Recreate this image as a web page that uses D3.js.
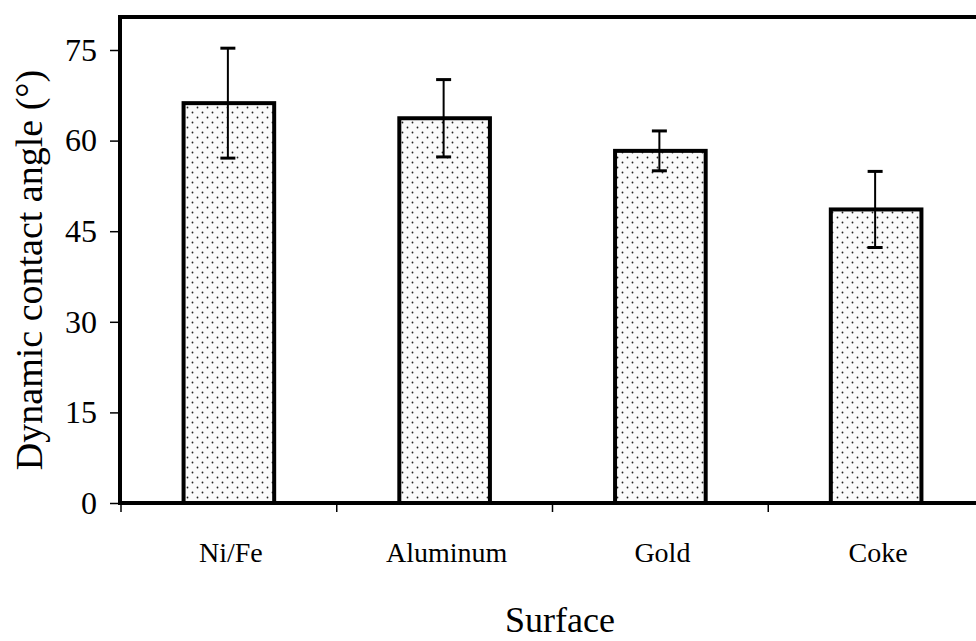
<!DOCTYPE html>
<html>
<head>
<meta charset="utf-8">
<script src="https://cdn.jsdelivr.net/npm/d3@7"></script>
<style>
  body { margin: 0; background: #fff; }
  text { font-family: "Liberation Serif", "Times New Roman", serif; fill: #000; }
</style>
</head>
<body>
<section></section>
<script>
// Datos
var categorias = ["Ni/Fe", "Aluminum", "Gold", "Coke"]
var angulos = [66.2, 63.7, 58.3, 48.6]
var errores = [9.1, 6.4, 3.3, 6.3]
var ticksY = [0, 15, 30, 45, 60, 75]

var width = 976
var height = 641

var lienzosvg = d3.select("section")
    .append("svg")
    .attr("width", width)
    .attr("height", height)

// patron de puntos para el relleno de las barras
var patron = lienzosvg.append("defs")
    .append("pattern")
    .attr("id", "puntos")
    .attr("patternUnits", "userSpaceOnUse")
    .attr("width", 10)
    .attr("height", 10)
patron.append("rect").attr("width", 10).attr("height", 10).attr("fill", "#fafafa")
patron.append("circle").attr("cx", 2.5).attr("cy", 2.5).attr("r", 0.9).attr("fill", "#222")
patron.append("circle").attr("cx", 7.5).attr("cy", 7.5).attr("r", 0.9).attr("fill", "#222")

// escalas
var escalaY = d3.scaleLinear()
    .domain([0, 75])
    .range([503, 50])

var escalaX = d3.scaleBand()
    .domain(categorias)
    .range([121, 984])
    .padding(0)

var anchoBarra = escalaX.bandwidth() * 0.42
var topeY = 17

// barras
lienzosvg.selectAll(".barra")
    .data(categorias)
    .enter()
    .append("rect")
    .attr("class", "barra")
    .attr("x", function (d) { return escalaX(d) + escalaX.bandwidth() / 2 - anchoBarra / 2 })
    .attr("y", function (d, i) { return escalaY(angulos[i]) })
    .attr("width", anchoBarra)
    .attr("height", function (d, i) { return escalaY(0) - escalaY(angulos[i]) })
    .attr("fill", "url(#puntos)")
    .attr("stroke", "#000")
    .attr("stroke-width", 4)

// barras de error
var err = lienzosvg.selectAll(".error")
    .data(categorias)
    .enter()
    .append("g")
    .attr("class", "error")
    .attr("transform", function (d) { return "translate(" + (escalaX(d) + escalaX.bandwidth() / 2 - 1) + ",0)" })

err.append("line")
    .attr("y1", function (d, i) { return escalaY(angulos[i] + errores[i]) })
    .attr("y2", function (d, i) { return escalaY(angulos[i] - errores[i]) })
    .attr("stroke", "#000")
    .attr("stroke-width", 2)

err.selectAll(".tapa")
    .data(function (d, i) { return [angulos[i] + errores[i], angulos[i] - errores[i]] })
    .enter()
    .append("line")
    .attr("x1", -7.5)
    .attr("x2", 7.5)
    .attr("y1", function (v) { return escalaY(v) })
    .attr("y2", function (v) { return escalaY(v) })
    .attr("stroke", "#000")
    .attr("stroke-width", 3)

// marco: eje izquierdo, borde superior y eje inferior
lienzosvg.append("path")
    .attr("d", "M" + width + "," + topeY + "H120V" + escalaY(0) + "H" + width)
    .attr("fill", "none")
    .attr("stroke", "#000")
    .attr("stroke-width", 4)

// eje Y
var ejeY = d3.axisLeft(escalaY)
    .tickValues(ticksY)
    .tickSize(9)
    .tickPadding(13)

var gY = lienzosvg.append("g")
    .attr("transform", "translate(119,0)")
    .call(ejeY)
gY.select(".domain").remove()
gY.selectAll(".tick line").attr("stroke", "#000").attr("stroke-width", 1.5)
gY.selectAll(".tick text")
    .attr("font-size", 32)
    .attr("font-family", "Liberation Serif")
    .attr("fill", "#000")

// eje X: marcas entre categorias
var limites = categorias.map(function (d) { return escalaX(d) })
lienzosvg.selectAll(".marcaX")
    .data(limites)
    .enter()
    .append("line")
    .attr("x1", function (d) { return d })
    .attr("x2", function (d) { return d })
    .attr("y1", escalaY(0))
    .attr("y2", escalaY(0) + 9)
    .attr("stroke", "#000")
    .attr("stroke-width", 1.5)

lienzosvg.selectAll(".etiqueta")
    .data(categorias)
    .enter()
    .append("text")
    .attr("x", function (d) { return escalaX(d) + escalaX.bandwidth() / 2 + 2 })
    .attr("y", 562)
    .attr("text-anchor", "middle")
    .attr("font-size", 28)
    .text(function (d) { return d })

// titulos de los ejes
lienzosvg.append("text")
    .attr("x", 560)
    .attr("y", 632)
    .attr("text-anchor", "middle")
    .attr("font-size", 36)
    .text("Surface")

lienzosvg.append("text")
    .attr("transform", "translate(42,270) rotate(-90)")
    .attr("text-anchor", "middle")
    .attr("font-size", 38)
    .text("Dynamic contact angle (°)")
</script>
</body>
</html>
